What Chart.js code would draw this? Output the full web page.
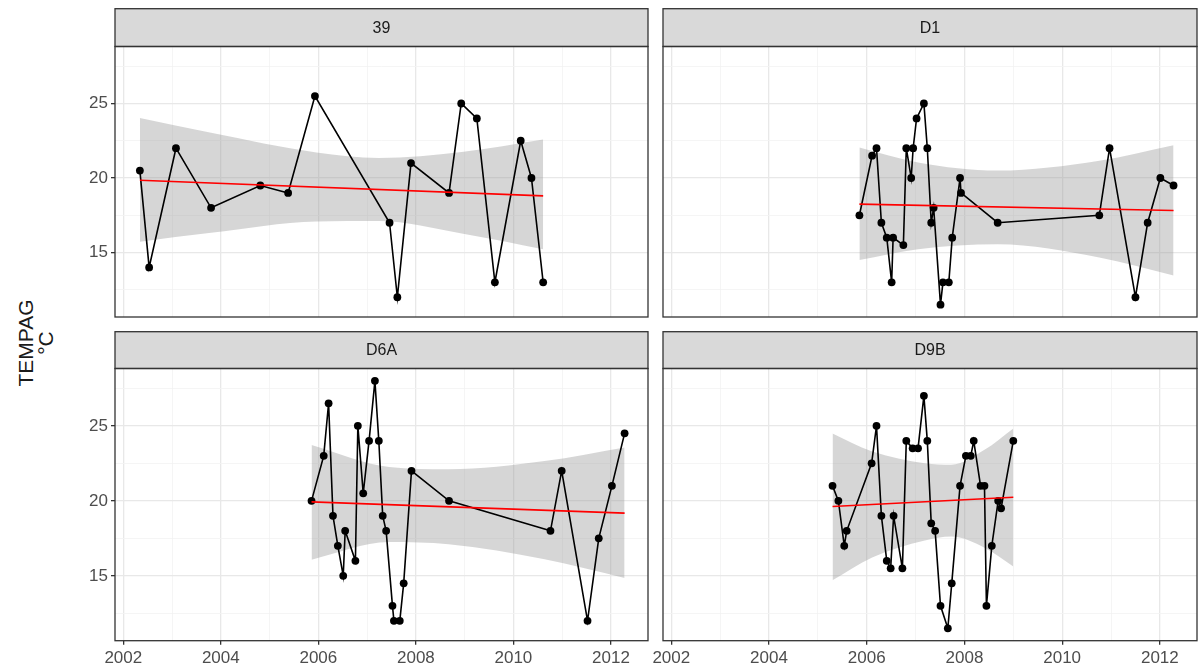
<!DOCTYPE html>
<html>
<head>
<meta charset="utf-8">
<script src="https://cdn.jsdelivr.net/npm/chart.js@4.4.1/dist/chart.umd.min.js"></script>
<style>
  body { margin: 0; background: #fff; width: 1202px; height: 671px; position: relative; overflow: hidden;
         font-family: "Liberation Sans", Arial, sans-serif; }
  canvas { position: absolute; }
  #ytitle { position: absolute; left: -64px; top: 323px; width: 200px; text-align: center;
            font-size: 21px; line-height: 20px; color: #1a1a1a; transform: rotate(-90deg); }
</style>
</head>
<body>
<canvas id="c39" width="592" height="313" style="left:60px;top:8px"></canvas>
<canvas id="cD1" width="561" height="313" style="left:640px;top:8px"></canvas>
<canvas id="cD6A" width="592" height="340" style="left:60px;top:331px"></canvas>
<canvas id="cD9B" width="561" height="340" style="left:640px;top:331px"></canvas>
<div id="ytitle">TEMPAG<br>°C</div>
<script>
// ticks / gridlines
const xMajor = [2002, 2004, 2006, 2008, 2010, 2012];
const xMinor = [2003, 2005, 2007, 2009, 2011];
const yMajor = [15, 20, 25];
const yMinor = [12.5, 17.5, 22.5, 27.5];

// estación 39
const x39 = [2002.34, 2002.53, 2003.08, 2003.80, 2004.81, 2005.38, 2005.93, 2007.46, 2007.62, 2007.90,
             2008.68, 2008.93, 2009.25, 2009.62, 2010.15, 2010.37, 2010.61];
const t39 = [20.5, 14, 22, 18, 19.5, 19, 25.5, 17, 12, 21, 19, 25, 24, 13, 22.5, 20, 13];
const fitX39 = [2002.34, 2010.61];
const fitY39 = [19.85, 18.8];
const bandX39 = [2002.34, 2003.8, 2005.96, 2007.24, 2008.94, 2010.61];
const bandLo39 = [15.73, 16.32, 17.09, 17.11, 16.27, 15.22];
const bandHi39 = [24.02, 23.03, 21.71, 21.35, 21.75, 22.59];

// D1
const xD1 = [2005.85, 2006.11, 2006.20, 2006.30, 2006.41, 2006.51, 2006.54, 2006.75, 2006.81, 2006.91,
             2006.95, 2007.02, 2007.17, 2007.24, 2007.32, 2007.37, 2007.51, 2007.56, 2007.68, 2007.75,
             2007.91, 2007.93, 2008.68, 2010.76, 2010.97, 2011.50, 2011.75, 2012.01, 2012.28];
const tD1 = [17.5, 21.5, 22, 17, 16, 13, 16, 15.5, 22, 20, 22, 24, 25, 22, 17, 18, 11.5, 13, 13, 16,
             20, 19, 17, 17.5, 22, 12, 17, 20, 19.5];
const fitXD1 = [2005.85, 2012.28];
const fitYD1 = [18.25, 17.82];
const bandXD1 = [2005.85, 2007.05, 2008.68, 2010.76, 2012.28];
const bandLoD1 = [14.5, 15.22, 15.55, 14.67, 13.46];
const bandHiD1 = [22.04, 21.05, 20.5, 21.16, 22.2];

// D6A
const xD6A = [2005.86, 2006.11, 2006.21, 2006.30, 2006.40, 2006.51, 2006.55, 2006.76, 2006.81, 2006.92,
              2007.04, 2007.16, 2007.24, 2007.32, 2007.39, 2007.52, 2007.55, 2007.67, 2007.75, 2007.91,
              2008.68, 2010.76, 2010.99, 2011.52, 2011.75, 2012.02, 2012.28];
const tD6A = [20, 23, 26.5, 19, 17, 15, 18, 16, 25, 20.5, 24, 28, 24, 19, 18, 13, 12, 12, 14.5, 22,
              20, 18, 22, 12, 17.5, 21, 24.5];
const fitXD6A = [2005.86, 2012.28];
const fitYD6A = [19.93, 19.18];
const bandXD6A = [2005.86, 2007.45, 2008.67, 2010.64, 2012.28];
const bandLoD6A = [16.08, 17.25, 17.1, 16.1, 14.86];
const bandHiD6A = [23.72, 22.25, 22.1, 22.65, 23.56];

// D9B
const xD9B = [2005.30, 2005.42, 2005.54, 2005.59, 2006.10, 2006.20, 2006.30, 2006.41, 2006.49, 2006.55,
              2006.73, 2006.81, 2006.94, 2007.05, 2007.17, 2007.24, 2007.32, 2007.40, 2007.51, 2007.66,
              2007.74, 2007.91, 2008.03, 2008.13, 2008.19, 2008.33, 2008.41, 2008.45, 2008.56, 2008.69,
              2008.75, 2009.00];
const tD9B = [21, 20, 17, 18, 22.5, 25, 19, 16, 15.5, 19, 15.5, 24, 23.5, 23.5, 27, 24, 18.5, 18, 13, 11.5,
              14.5, 21, 23, 23, 24, 21, 21, 13, 17, 20, 19.5, 24];
const fitXD9B = [2005.30, 2009.00];
const fitYD9B = [19.62, 20.24];
const bandXD9B = [2005.30, 2006.10, 2007.19, 2007.73, 2008.41, 2009.00];
const bandLoD9B = [14.7, 16.2, 17.35, 17.62, 16.88, 15.63];
const bandHiD9B = [24.49, 23.3, 22.5, 22.4, 23.4, 24.83];

const pts = (xs, ys) => xs.map((x, i) => ({ x: x, y: ys[i] }));
const FONT = '"Liberation Sans", Arial, sans-serif';

// strip de faceta + borde del panel
const facetStrip = {
    id: 'facetStrip',
    beforeDraw(chart, args, opts) {
        const a = chart.chartArea, c = chart.ctx;
        c.save();
        c.fillStyle = '#D9D9D9';
        c.fillRect(a.left, 0.5, a.right - a.left, a.top - 0.5);
        c.fillStyle = '#1A1A1A';
        c.font = '16px ' + FONT;
        c.textAlign = 'center';
        c.textBaseline = 'middle';
        c.fillText(opts.text, (a.left + a.right) / 2, a.top / 2 + 1);
        c.restore();
    },
    afterDraw(chart) {
        const a = chart.chartArea, c = chart.ctx;
        c.save();
        c.strokeStyle = '#333333';
        c.lineWidth = 1.3;
        c.strokeRect(a.left, 0.7, a.right - a.left, a.top - 0.7);
        c.strokeRect(a.left, a.top, a.right - a.left, a.bottom - a.top);
        c.restore();
    }
};

function axis(major, minor, min, max, show, size) {
    return {
        type: 'linear',
        min: min,
        max: max,
        afterBuildTicks: (s) => { s.ticks = major.concat(minor).sort((a, b) => a - b).map(v => ({ value: v })); },
        afterFit: (s) => {
            if (s.isHorizontal()) s.height = size; else s.width = size;
            s.paddingTop = 0; s.paddingBottom = 0; s.paddingLeft = 0; s.paddingRight = 0;
        },
        border: { display: false },
        grid: {
            color: (ctx) => major.includes(ctx.tick.value) ? '#E8E8E8' : '#F3F3F3',
            lineWidth: (ctx) => major.includes(ctx.tick.value) ? 1.3 : 0.8,
            drawTicks: show,
            tickLength: 4,
            tickColor: (ctx) => major.includes(ctx.tick.value) ? '#333333' : 'rgba(0,0,0,0)'
        },
        ticks: {
            display: show,
            autoSkip: false,
            maxRotation: 0,
            padding: 3,
            color: '#4D4D4D',
            font: { family: FONT, size: 17 },
            callback: (v) => major.includes(v) ? String(v) : ''
        }
    };
}

function panel(id, name, xs, ys, fx, fy, bx, blo, bhi, showX, showY, stripH, padL) {
    new Chart(document.getElementById(id), {
        type: 'line',
        data: {
            datasets: [
                { data: pts(bx, bhi), fill: '+1', backgroundColor: 'rgba(153,153,153,0.4)', borderWidth: 0,
                  pointRadius: 0, cubicInterpolationMode: 'monotone', order: 3 },
                { data: pts(bx, blo), fill: false, borderWidth: 0, pointRadius: 0,
                  cubicInterpolationMode: 'monotone', order: 4 },
                { data: pts(xs, ys), borderColor: '#000000', borderWidth: 1.6, pointRadius: 3.9,
                  pointBackgroundColor: '#000000', pointBorderWidth: 0, fill: false, order: 1 },
                { data: pts(fx, fy), borderColor: '#FF0000', borderWidth: 1.6, pointRadius: 0, fill: false, order: 0 }
            ]
        },
        options: {
            responsive: false,
            devicePixelRatio: 1,
            animation: false,
            layout: { padding: { top: stripH, right: 1, bottom: showX ? 0 : 0.5, left: padL } },
            plugins: { legend: { display: false }, tooltip: { enabled: false }, facetStrip: { text: name } },
            scales: {
                x: axis(xMajor, xMinor, 2001.83, 2012.76, showX, showX ? 30.3 : 0),
                y: axis(yMajor, yMinor, 10.675, 28.825, showY, showY ? 55 : 0)
            }
        },
        plugins: [facetStrip]
    });
}

panel('c39', '39', x39, t39, fitX39, fitY39, bandX39, bandLo39, bandHi39, false, true, 38.5, 0);
panel('cD1', 'D1', xD1, tD1, fitXD1, fitYD1, bandXD1, bandLoD1, bandHiD1, false, false, 38.5, 23);
panel('cD6A', 'D6A', xD6A, tD6A, fitXD6A, fitYD6A, bandXD6A, bandLoD6A, bandHiD6A, true, true, 37.5, 0);
panel('cD9B', 'D9B', xD9B, tD9B, fitXD9B, fitYD9B, bandXD9B, bandLoD9B, bandHiD9B, true, false, 37.5, 23);
</script>
</body>
</html>
